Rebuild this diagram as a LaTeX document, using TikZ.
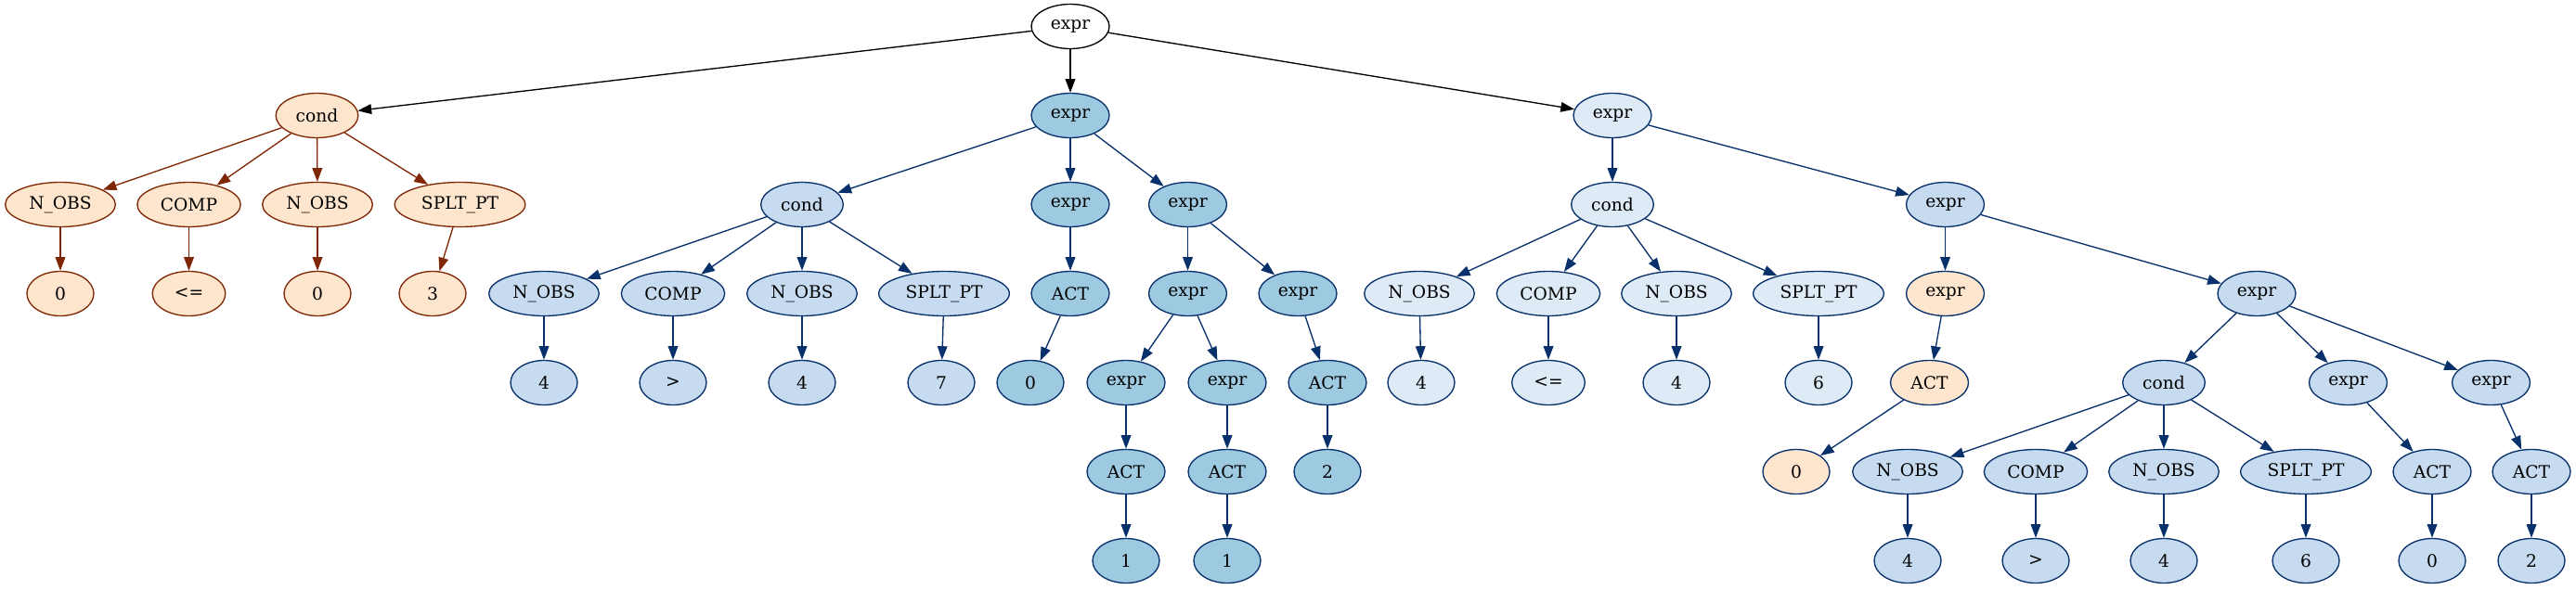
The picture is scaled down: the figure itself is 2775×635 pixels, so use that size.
\documentclass[tikz,border=0pt]{standalone}
\usepackage{fontspec}
\setmainfont{DejaVu Serif}
\usetikzlibrary{shapes.geometric,arrows.meta}
\definecolor{peach}{HTML}{FEE6CE}
\definecolor{brn}{HTML}{7F2704}
\definecolor{bA}{HTML}{DEEBF7}
\definecolor{bB}{HTML}{C6DBEF}
\definecolor{bC}{HTML}{9ECAE1}
\definecolor{nav}{HTML}{08306B}
\begin{document}
\begin{tikzpicture}[x=0.75pt,y=-0.75pt,
 nd/.style={ellipse,draw,inner sep=0pt,minimum height=36pt,line width=1pt,font=\fontsize{14}{16}\selectfont},
 wS/.style={minimum width=54pt}, wE/.style={minimum width=63pt}, wC/.style={minimum width=66.5pt},
 wCP/.style={minimum width=83.5pt}, wN/.style={minimum width=89pt}, wP/.style={minimum width=105.5pt},
 wLE/.style={minimum width=59pt},
 pO/.style={nd,fill=peach,draw=brn}, pB/.style={nd,fill=peach,draw=nav},
 lA/.style={nd,fill=bA,draw=nav}, lB/.style={nd,fill=bB,draw=nav}, lC/.style={nd,fill=bC,draw=nav},
 rt/.style={nd,fill=white,draw=black},
 ed/.style={-{Triangle[length=11pt,width=8pt]},line width=1pt},
 eO/.style={ed,draw=brn}, eB/.style={ed,draw=nav}, eK/.style={ed,draw=black}]
\useasboundingbox (0,0) rectangle (2775,635);
\def\ra{28.5}\def\rb{124.5}\def\rc{220.5}\def\rd{316.5}\def\re{412.5}\def\rf{508.5}\def\rg{604.5}
% root
\node[rt,wE] (root) at (1153,\ra) {expr};
% left subtree
\node[pO,wC] (Lc) at (341.5,\rb) {cond};
\node[pO,wN] (Ln1) at (65,\rc) {N\_OBS};
\node[pO,wCP] (Lcp) at (203.5,\rc) {COMP};
\node[pO,wN] (Ln2) at (342,\rc) {N\_OBS};
\node[pO,wP] (Lsp) at (495.5,\rc) {SPLT\_PT};
\node[pO,wS] (Lv1) at (65,\rd) {0};
\node[pO,wLE] (Lv2) at (203.5,\rd) {<=};
\node[pO,wS] (Lv3) at (342,\rd) {0};
\node[pO,wS] (Lv4) at (466,\rd) {3};
% middle subtree
\node[lC,wE] (Me) at (1153,\rb) {expr};
\node[lB,wC] (Mc) at (864,\rc) {cond};
\node[lC,wE] (Me1) at (1153,\rc) {expr};
\node[lC,wE] (Me2) at (1279.5,\rc) {expr};
\node[lB,wN] (Mn1) at (586,\rd) {N\_OBS};
\node[lB,wCP] (Mcp) at (725,\rd) {COMP};
\node[lB,wN] (Mn2) at (864,\rd) {N\_OBS};
\node[lB,wP] (Msp) at (1017,\rd) {SPLT\_PT};
\node[lC,wE] (Ma1) at (1153,\rd) {ACT};
\node[lC,wE] (Me3) at (1279.5,\rd) {expr};
\node[lC,wE] (Me4) at (1398,\rd) {expr};
\node[lB,wS] (Mv1) at (586,\re) {4};
\node[lB,wS] (Mv2) at (725,\re) {>};
\node[lB,wS] (Mv3) at (864,\re) {4};
\node[lB,wS] (Mv4) at (1014,\re) {7};
\node[lC,wS] (Mv5) at (1110,\re) {0};
\node[lC,wE] (Me5) at (1213,\re) {expr};
\node[lC,wE] (Me6) at (1322,\re) {expr};
\node[lC,wE] (Ma2) at (1430,\re) {ACT};
\node[lC,wE] (Ma3) at (1213,\rf) {ACT};
\node[lC,wE] (Ma4) at (1322,\rf) {ACT};
\node[lC,wS] (Mv6) at (1430,\rf) {2};
\node[lC,wS] (Mv7) at (1213,\rg) {1};
\node[lC,wS] (Mv8) at (1322,\rg) {1};
% right subtree
\node[lA,wE] (Re) at (1737,\rb) {expr};
\node[lA,wC] (Rc) at (1737,\rc) {cond};
\node[lB,wE] (Re1) at (2095.5,\rc) {expr};
\node[lA,wN] (Rn1) at (1529,\rd) {N\_OBS};
\node[lA,wCP] (Rcp) at (1668,\rd) {COMP};
\node[lA,wN] (Rn2) at (1806,\rd) {N\_OBS};
\node[lA,wP] (Rsp) at (1959,\rd) {SPLT\_PT};
\node[pB,wE] (Re2) at (2095.5,\rd) {expr};
\node[lB,wE] (Re3) at (2431,\rd) {expr};
\node[lA,wS] (Rv1) at (1531,\re) {4};
\node[lA,wLE] (Rv2) at (1668,\re) {<=};
\node[lA,wS] (Rv3) at (1806,\re) {4};
\node[lA,wS] (Rv4) at (1959,\re) {6};
\node[pB,wE] (Ra1) at (2078.5,\re) {ACT};
\node[lB,wC] (Rc2) at (2331,\re) {cond};
\node[lB,wE] (Re4) at (2529.5,\re) {expr};
\node[lB,wE] (Re5) at (2683.5,\re) {expr};
\node[pB,wS] (Rv5) at (1935,\rf) {0};
\node[lB,wN] (Rn3) at (2055,\rf) {N\_OBS};
\node[lB,wCP] (Rcp2) at (2193,\rf) {COMP};
\node[lB,wN] (Rn4) at (2331,\rf) {N\_OBS};
\node[lB,wP] (Rsp2) at (2484,\rf) {SPLT\_PT};
\node[lB,wE] (Ra2) at (2620,\rf) {ACT};
\node[lB,wE] (Ra3) at (2727,\rf) {ACT};
\node[lB,wS] (Rv6) at (2055,\rg) {4};
\node[lB,wS] (Rv7) at (2193,\rg) {>};
\node[lB,wS] (Rv8) at (2331,\rg) {4};
\node[lB,wS] (Rv9) at (2484,\rg) {6};
\node[lB,wS] (Rv10) at (2620,\rg) {0};
\node[lB,wS] (Rv11) at (2727,\rg) {2};
% edges
\foreach \b in {Lc,Me,Re} \draw[eK] (root) -- (\b);
\foreach \a/\b in {Lc/Ln1,Lc/Lcp,Lc/Ln2,Lc/Lsp,Ln1/Lv1,Lcp/Lv2,Ln2/Lv3,Lsp/Lv4} \draw[eO] (\a) -- (\b);
\foreach \a/\b in {Me/Mc,Me/Me1,Me/Me2,Mc/Mn1,Mc/Mcp,Mc/Mn2,Mc/Msp,Mn1/Mv1,Mcp/Mv2,Mn2/Mv3,Msp/Mv4,
  Me1/Ma1,Ma1/Mv5,Me2/Me3,Me2/Me4,Me3/Me5,Me3/Me6,Me4/Ma2,Ma2/Mv6,Me5/Ma3,Me6/Ma4,Ma3/Mv7,Ma4/Mv8,
  Re/Rc,Re/Re1,Rc/Rn1,Rc/Rcp,Rc/Rn2,Rc/Rsp,Rn1/Rv1,Rcp/Rv2,Rn2/Rv3,Rsp/Rv4,
  Re1/Re2,Re1/Re3,Re2/Ra1,Ra1/Rv5,Re3/Rc2,Re3/Re4,Re3/Re5,Rc2/Rn3,Rc2/Rcp2,Rc2/Rn4,Rc2/Rsp2,
  Rn3/Rv6,Rcp2/Rv7,Rn4/Rv8,Rsp2/Rv9,Re4/Ra2,Re5/Ra3,Ra2/Rv10,Ra3/Rv11} \draw[eB] (\a) -- (\b);
\end{tikzpicture}
\end{document}
